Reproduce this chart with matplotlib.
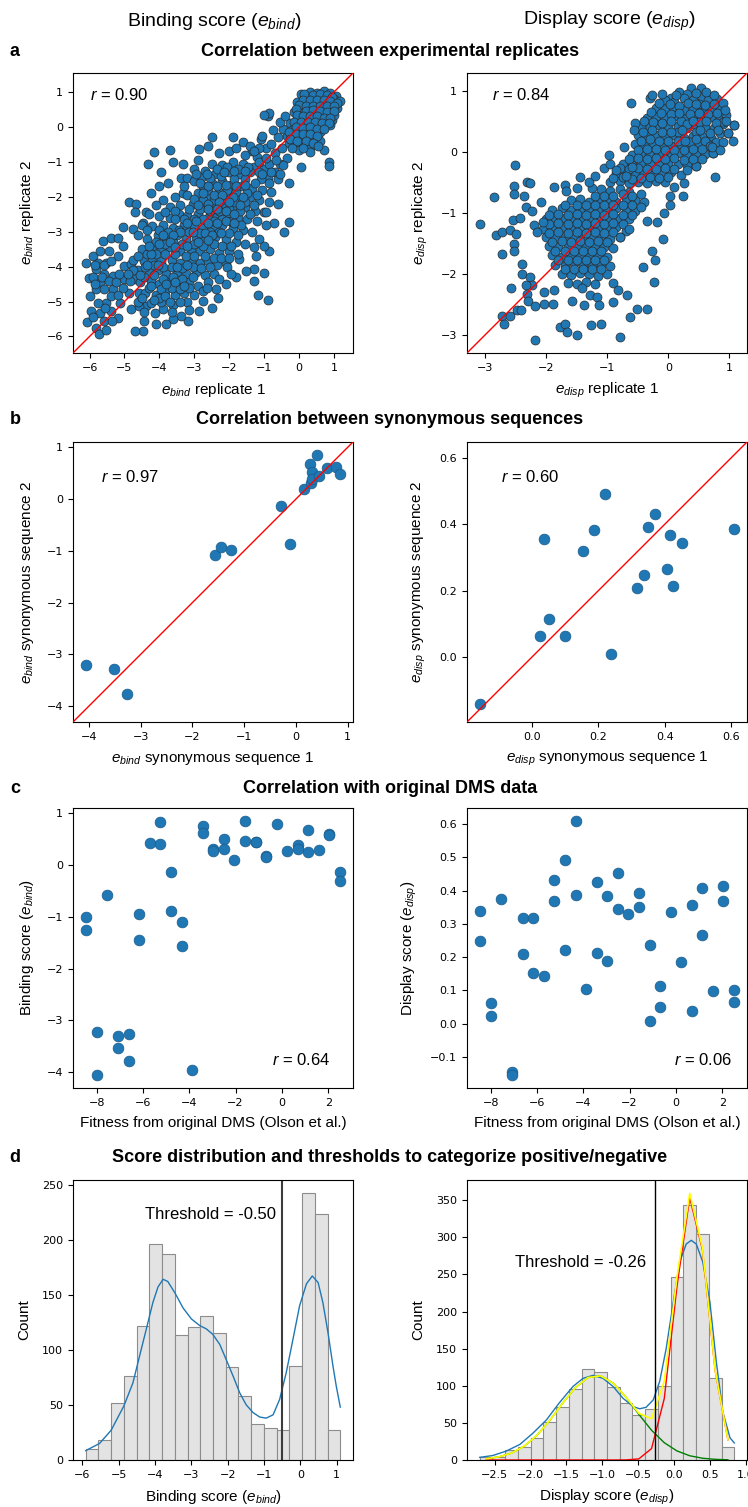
import numpy as np
import matplotlib.pyplot as plt
from matplotlib.ticker import MultipleLocator

plt.rcParams['mathtext.fontset'] = 'custom'
plt.rcParams['mathtext.rm'] = 'Liberation Sans'
plt.rcParams['mathtext.it'] = 'Liberation Sans:italic'

# ---- replicate scores, (replicate 1, replicate 2) ----
bind_replicates = [
    (0.05, 0.95), (0.3, 1.0), (0.5, 0.98), (0.7, 1.02), (0.9, 0.97), (1.05, 0.9), (0.2, 0.85), (0.4, 0.82),
    (0.6, 0.86), (0.8, 0.84), (1.0, 0.8), (1.18, 0.75), (-0.05, 0.7), (0.15, 0.68), (0.35, 0.7), (0.55, 0.66),
    (0.75, 0.7), (0.95, 0.65), (0.1, 0.55), (0.3, 0.52), (0.5, 0.55), (0.7, 0.5), (0.9, 0.48), (1.08, 0.55),
    (-0.15, 0.42), (0.05, 0.4), (0.25, 0.38), (0.45, 0.4), (0.65, 0.35), (0.85, 0.32), (-0.05, 0.25), (0.15, 0.22),
    (0.35, 0.25), (0.55, 0.2), (0.75, 0.18), (0.95, 0.2), (-0.25, 0.1), (-0.05, 0.08), (0.15, 0.05), (0.35, 0.07),
    (0.55, 0.0), (0.75, 0.02), (-0.2, -0.1), (0.0, -0.08), (0.2, -0.12), (0.4, -0.1), (0.6, -0.15),
    (-0.35, -0.25), (-0.15, -0.28), (0.05, -0.3), (0.25, -0.3), (0.45, -0.35), (-0.3, -0.45), (-0.1, -0.5),
    (0.15, -0.48), (0.35, -0.55), (0.6, -0.4), (0.7, -0.65), (0.3, -0.72), (0.0, -0.65), (-0.45, -0.05),
    (-0.55, 0.15), (-0.4, 0.3), (-0.6, -0.3), (-0.75, -0.1), (-0.9, 0.3), (-0.85, 0.4), (-1.0, 0.35),
    (-0.95, -0.6), (-0.8, -0.5), (-1.1, -0.35), (-1.15, -0.6), (-1.35, -0.7), (-0.7, -0.75), (0.85, -1.0),
    (0.85, -1.12), (0.05, -1.15), (-0.35, -0.88), (-0.55, -1.05), (-0.5, -0.6), (0.9, 0.05), (1.0, 0.35),
    (0.15, 0.95), (0.4, 0.92), (0.6, 0.93), (0.8, 0.92), (0.95, 0.85), (0.1, 0.78), (0.3, 0.76), (0.5, 0.76),
    (0.7, 0.77), (0.9, 0.75), (1.1, 0.68), (0.0, 0.62), (0.2, 0.6), (0.4, 0.61), (0.6, 0.6), (0.8, 0.6),
    (1.0, 0.6), (-0.1, 0.52), (0.2, 0.47), (0.4, 0.48), (0.6, 0.45), (0.8, 0.42), (1.0, 0.45), (-0.05, 0.33),
    (0.1, 0.3), (0.3, 0.3), (0.5, 0.3), (0.7, 0.27), (0.9, 0.26), (-0.15, 0.15), (0.05, 0.15), (0.25, 0.15),
    (0.45, 0.13), (0.65, 0.1), (0.85, 0.1), (-0.1, 0.0), (0.1, -0.02), (0.3, 0.0), (0.5, -0.05), (0.7, -0.05),
    (-0.3, -0.15), (-0.1, -0.2), (0.1, -0.2), (0.3, -0.2), (0.5, -0.25), (-0.25, -0.35), (-0.05, -0.4),
    (0.2, -0.4), (0.4, -0.45), (0.55, -0.55), (-0.2, -0.6), (0.1, -0.6),
    (-1.05, -0.25), (-1.62, -0.44), (-1.9, -0.3), (-2.48, -0.3), (-2.86, -0.62), (-3.71, -0.65), (-4.16, -0.73),
    (-4.33, -1.07), (-3.62, -1.0), (-3.33, -1.07), (-3.95, -1.3), (-4.0, -1.7), (-3.76, -1.6), (-3.38, -1.45),
    (-4.24, -1.88), (-3.33, -1.88), (-4.88, -2.16), (-4.67, -2.2), (-4.71, -2.45), (-4.38, -2.45), (-5.05, -2.88),
    (-4.76, -2.93), (-4.47, -2.74), (-0.29, -2.71), (-0.43, -3.02), (-0.71, -2.74), (-0.86, -2.16), (-1.0, -2.45),
    (-1.14, -3.2), (-0.86, -3.55), (-1.0, -3.4), (-1.24, -3.69), (-1.29, -4.08), (-1.0, -4.17), (-1.19, -4.82),
    (-0.88, -4.96), (-1.29, -4.41), (-1.52, -4.12), (-1.71, -3.79), (-2.1, -3.89), (-2.1, -4.5), (-2.38, -4.65),
    (-2.33, -4.89), (-2.76, -4.98), (-2.48, -5.18), (-2.86, -5.27), (-3.19, -5.56), (-3.38, -5.42), (-3.62, -5.51),
    (-3.81, -5.63), (-4.1, -5.65), (-4.48, -5.85), (-4.71, -5.85), (-4.43, -5.56), (-4.38, -5.13), (-3.9, -5.22),
    (-4.14, -5.32), (-6.11, -3.91), (-6.02, -4.32), (-5.9, -3.7), (-5.71, -3.55), (-5.62, -3.26), (-5.38, -3.17),
    (-5.19, -3.19), (-5.05, -3.41), (-5.81, -4.08), (-5.52, -3.89), (-5.33, -4.27), (-5.71, -4.46), (-6.0, -4.84),
    (-5.81, -4.65), (-5.52, -5.03), (-5.95, -5.27), (-5.71, -5.32), (-6.08, -5.6), (-5.81, -5.75), (-5.73, -5.92),
    (-5.52, -5.82), (-5.38, -5.27), (-5.19, -5.46), (-5.14, -5.03), (-5.33, -4.65), (-5.0, -4.36), (-5.0, -3.98),
    (-4.81, -3.93), (-5.19, -3.7), (-4.86, -4.75), (-4.81, -5.22), (-4.57, -5.13), (-4.71, -4.36), (-4.57, -4.75),
    (-5.6, -4.2), (-5.9, -4.3), (-5.45, -3.55), (-5.75, -3.9),
    (-2.6, -0.55), (-2.3, -0.75), (-2.0, -0.7), (-1.8, -0.6), (-1.4, -0.55), (-1.2, -0.85), (-2.9, -0.95),
    (-2.5, -1.05), (-2.2, -1.1), (-1.9, -1.0), (-1.6, -1.05), (-1.3, -1.15), (-1.0, -1.2), (-0.7, -1.3),
    (-0.45, -1.1), (-0.3, -1.6), (-0.6, -1.5), (-0.9, -1.45), (-1.1, -1.5), (-1.4, -1.3), (-1.7, -1.35),
    (-2.0, -1.3), (-2.4, -1.35), (-2.7, -1.25), (-3.0, -1.2), (-3.2, -1.45), (-3.3, -1.7), (-3.0, -1.55),
    (-2.75, -1.7), (-2.5, -1.6), (-2.2, -1.55), (-1.95, -1.65), (-1.65, -1.7), (-1.35, -1.75), (-1.05, -1.8),
    (-0.8, -1.85), (-3.55, -2.0), (-3.2, -1.95), (-2.9, -1.9), (-2.6, -2.0), (-2.3, -1.85), (-2.0, -1.95),
    (-1.7, -2.05), (-1.4, -2.0), (-1.15, -2.1), (-3.9, -2.1), (-4.1, -2.25), (-3.7, -2.3), (-3.4, -2.25),
    (-3.05, -2.2), (-2.75, -2.3), (-2.45, -2.25), (-2.15, -2.2), (-1.85, -2.35), (-1.55, -2.3), (-1.25, -2.4),
    (-0.95, -2.45), (-0.6, -2.2), (-4.3, -2.5), (-4.0, -2.55), (-3.7, -2.6), (-3.45, -2.5), (-3.2, -2.55),
    (-2.9, -2.5), (-2.6, -2.6), (-2.35, -2.55), (-2.05, -2.5), (-1.75, -2.6), (-1.5, -2.65), (-1.2, -2.7),
    (-0.95, -2.8), (-4.5, -2.8), (-4.2, -2.85), (-3.9, -2.8), (-3.6, -2.9), (-3.3, -2.8), (-3.0, -2.85),
    (-2.75, -2.9), (-2.45, -2.85), (-2.2, -2.8), (-1.9, -2.9), (-1.6, -2.95), (-1.35, -3.0), (-4.6, -3.1),
    (-4.35, -3.2), (-4.05, -3.1), (-3.8, -3.2), (-3.5, -3.1), (-3.25, -3.2), (-2.95, -3.15), (-2.7, -3.25),
    (-2.4, -3.15), (-2.1, -3.2), (-1.8, -3.3), (-1.55, -3.35), (-1.3, -3.45), (-4.5, -3.5), (-4.2, -3.45),
    (-3.95, -3.5), (-3.7, -3.45), (-3.4, -3.55), (-3.1, -3.5), (-2.85, -3.55), (-2.55, -3.5), (-2.3, -3.6),
    (-2.0, -3.55), (-1.75, -3.65), (-4.75, -3.8), (-4.45, -3.85), (-4.2, -3.8), (-3.95, -3.85), (-3.65, -3.8),
    (-3.4, -3.9), (-3.1, -3.85), (-2.85, -3.9), (-2.6, -3.85), (-2.35, -3.95), (-2.05, -4.0), (-4.6, -4.1),
    (-4.3, -4.15), (-4.05, -4.1), (-3.8, -4.2), (-3.5, -4.15), (-3.25, -4.2), (-2.95, -4.15), (-2.7, -4.25),
    (-2.45, -4.2), (-1.8, -4.3), (-4.85, -4.4), (-4.55, -4.45), (-4.25, -4.4), (-4.0, -4.5), (-3.7, -4.45),
    (-3.45, -4.5), (-3.15, -4.45), (-2.9, -4.55), (-2.6, -4.45), (-4.4, -4.75), (-4.1, -4.8), (-3.85, -4.7),
    (-3.55, -4.8), (-3.3, -4.75), (-3.0, -4.8), (-2.75, -4.7), (-4.6, -5.0), (-4.25, -5.05), (-3.95, -5.0),
    (-3.6, -5.1), (-3.2, -5.0),
    (-4.35, -3.65), (-4.1, -3.65), (-3.85, -3.65), (-3.55, -3.65), (-3.25, -3.7), (-3.0, -3.7), (-2.7, -3.7),
    (-2.45, -3.75), (-4.4, -4.0), (-4.15, -3.95), (-3.9, -4.0), (-3.65, -4.0), (-3.35, -4.05), (-3.05, -4.0),
    (-2.8, -4.05), (-4.45, -4.3), (-4.15, -4.25), (-3.9, -4.35), (-3.6, -4.3), (-3.35, -4.35), (-3.05, -4.3),
    (-4.3, -4.6), (-3.95, -4.65), (-3.65, -4.6), (-3.4, -4.65), (-3.15, -4.62), (-4.1, -3.3), (-3.85, -3.35),
    (-3.6, -3.3), (-3.35, -3.35), (-3.0, -3.35), (-2.75, -3.4), (-2.45, -3.35), (-2.2, -3.4), (-1.95, -3.4),
    (-4.35, -2.95), (-3.75, -3.0), (-3.45, -2.95), (-3.15, -3.0), (-2.85, -3.05), (-2.55, -3.0), (-2.3, -3.0),
    (-2.0, -3.05), (-1.75, -3.1), (-3.85, -2.45), (-3.55, -2.4), (-3.3, -2.65), (-3.0, -2.65), (-2.75, -2.65),
    (-2.45, -2.7), (-2.2, -2.65), (-1.95, -2.7), (-1.65, -2.8), (-2.85, -2.35), (-2.55, -2.4), (-2.3, -2.4),
    (-2.0, -2.35), (-1.7, -2.4), (-1.4, -2.5), (-2.75, -2.1), (-2.45, -2.1), (-2.15, -2.05), (-1.85, -2.15),
    (-1.55, -2.15), (-1.3, -2.25), (-2.6, -1.8), (-2.35, -1.7), (-2.05, -1.8), (-1.8, -1.85), (-1.5, -1.9),
    (-1.2, -1.95), (-2.8, -1.45), (-2.55, -1.45), (-2.25, -1.4), (-1.85, -1.5), (-1.55, -1.5), (-1.25, -1.6),
    (-2.35, -1.2), (-2.05, -1.15), (-1.75, -1.2), (-1.45, -1.15), (-1.15, -1.3), (-0.85, -1.6), (-4.0, -2.95),
    (-4.25, -3.65), (-4.6, -3.7), (-4.75, -4.1), (-4.0, -4.9),
    (-2.95, -1.35), (-2.65, -1.35), (-2.15, -1.3), (-1.85, -1.25), (-1.55, -1.25), (-2.85, -1.6), (-2.6, -1.7),
    (-2.1, -1.65), (-1.8, -1.7), (-1.55, -1.65), (-2.75, -1.9), (-2.45, -1.95), (-2.2, -1.95), (-1.9, -2.0),
    (-1.6, -2.0), (-3.0, -2.05), (-2.6, -2.2), (-2.3, -2.15), (-2.0, -2.15), (-1.7, -2.25), (-3.15, -2.35),
    (-2.9, -2.25), (-2.6, -2.35), (-2.35, -2.35), (-2.1, -2.4), (-1.85, -2.5), (-3.55, -2.65), (-3.2, -2.75),
    (-2.95, -2.7), (-2.6, -2.75), (-2.35, -2.75), (-2.1, -2.7), (-1.85, -2.75), (-3.4, -3.0), (-3.05, -3.0),
    (-2.7, -3.05), (-2.5, -3.1), (-2.25, -3.05), (-3.6, -3.1), (-3.9, -3.1), (-3.7, -3.3), (-3.2, -3.4),
    (-2.9, -3.3), (-2.6, -3.25), (-4.3, -3.4), (-4.0, -3.35), (-3.55, -3.45), (-4.35, -3.95), (-4.05, -3.95),
    (-3.5, -4.0), (-3.2, -3.95), (-4.55, -4.25), (-4.25, -4.55), (-3.8, -4.5), (-3.55, -4.45), (-3.3, -4.55),
    (-4.5, -4.9), (-4.15, -4.95), (-3.85, -4.85), (-3.7, -5.0), (-3.4, -5.0), (-4.45, -5.3), (-3.65, -5.3),
    (-3.15, -5.25), (-2.65, -4.6), (-2.3, -4.35), (-2.55, -4.0), (-2.25, -3.75), (-2.0, -3.75), (-1.95, -4.2),
    (-5.85, -3.95), (-5.6, -3.95), (-5.4, -3.85), (-5.65, -4.3), (-5.45, -4.4), (-5.25, -4.45), (-5.85, -4.5),
    (-5.6, -4.65), (-5.4, -4.85), (-5.2, -4.8), (-5.75, -5.05), (-5.55, -5.2), (-5.9, -5.45), (-5.6, -5.55),
    (-5.35, -5.55), (-5.05, -4.6), (-5.15, -4.2), (-4.9, -4.2), (-1.15, -1.0), (-0.85, -1.05), (-0.95, -0.9),
    (-0.65, -0.95), (-1.55, -0.8), (-1.3, -0.7), (-0.55, -1.35), (-0.8, -1.3), (-1.05, -1.35),
]

disp_replicates = [
    (0.18, 0.98), (0.37, 1.05), (0.53, 1.05), (0.3, 0.95), (0.05, 0.88),
    (-0.3, 0.88), (-0.27, 0.92), (-0.05, 0.85), (0.1, 0.82), (0.25, 0.88), (0.4, 0.85), (0.55, 0.9), (0.7, 0.83),
    (0.8, 0.86), (-0.2, 0.72), (-0.05, 0.7), (0.1, 0.72), (0.25, 0.68), (0.4, 0.72), (0.55, 0.7), (0.7, 0.68),
    (0.85, 0.7), (-0.35, 0.55), (-0.2, 0.57), (-0.05, 0.55), (0.1, 0.58), (0.25, 0.54), (0.4, 0.57), (0.55, 0.55),
    (0.7, 0.56), (0.85, 0.53), (0.95, 0.6), (-0.45, 0.42), (-0.3, 0.4), (-0.15, 0.43), (0.0, 0.4), (0.15, 0.42),
    (0.3, 0.38), (0.45, 0.42), (0.6, 0.4), (0.75, 0.38), (0.9, 0.45), (1.08, 0.43), (-0.5, 0.27), (-0.35, 0.25),
    (-0.2, 0.28), (-0.05, 0.25), (0.1, 0.27), (0.25, 0.23), (0.4, 0.26), (0.55, 0.25), (0.7, 0.22), (0.85, 0.3),
    (0.98, 0.3), (-0.55, 0.12), (-0.4, 0.1), (-0.25, 0.12), (-0.1, 0.08), (0.05, 0.1), (0.2, 0.12), (0.35, 0.08),
    (0.5, 0.1), (0.65, 0.12), (0.78, 0.15), (1.06, 0.17), (-0.6, -0.05), (-0.45, -0.03), (-0.3, -0.05),
    (-0.15, -0.02), (0.0, -0.06), (0.15, -0.03), (0.3, -0.05), (0.45, -0.02), (0.6, -0.04), (0.73, -0.02),
    (-0.75, -0.2), (-0.6, -0.22), (-0.45, -0.18), (-0.3, -0.2), (-0.15, -0.22), (0.0, -0.18), (0.15, -0.2),
    (0.3, -0.22), (0.45, -0.24), (-0.85, -0.35), (-0.7, -0.33), (-0.55, -0.37), (-0.4, -0.35), (-0.25, -0.33),
    (-0.1, -0.36), (0.05, -0.34), (0.2, -0.38), (0.76, -0.41), (-0.95, -0.5), (-0.8, -0.48), (-0.65, -0.52),
    (-0.5, -0.5), (-0.35, -0.52), (-0.2, -0.48), (-0.05, -0.5), (0.26, -0.52), (0.1, -0.58), (0.05, 0.62),
    (0.2, 0.5), (0.35, 0.62), (0.5, 0.48), (0.65, 0.62), (0.15, 0.32), (0.3, 0.45), (0.45, 0.32), (0.6, 0.18),
    (0.0, 0.18), (-0.1, 0.32), (0.35, 0.15), (0.5, 0.78), (0.18, 0.75), (0.65, 0.85), (-0.61, 0.79),
    (-0.54, 0.47), (-0.56, 0.36), (-0.73, 0.08), (0.98, 0.3), (0.9, 0.48), (0.73, -0.02), (0.68, 0.09),
    (0.45, -0.24), (0.24, -0.73), (0.03, -0.73), (0.03, -0.87), (1.08, 0.43),
    (-0.1, 0.95), (0.12, 0.92), (0.45, 0.96), (0.62, 0.97), (0.75, 0.93), (-0.15, 0.8), (0.02, 0.78),
    (0.32, 0.8), (0.45, 0.78), (0.6, 0.76), (0.75, 0.78), (0.9, 0.8), (-0.28, 0.65), (-0.12, 0.63),
    (0.18, 0.64), (0.5, 0.63), (0.8, 0.64), (0.92, 0.68), (-0.4, 0.5), (-0.25, 0.48), (-0.1, 0.47), (0.05, 0.5),
    (0.4, 0.5), (0.62, 0.5), (0.78, 0.47), (0.95, 0.5), (-0.42, 0.33), (-0.27, 0.35), (0.05, 0.33), (0.22, 0.36),
    (0.52, 0.36), (0.68, 0.3), (0.82, 0.35), (-0.45, 0.18), (-0.3, 0.2), (-0.15, 0.18), (0.15, 0.18),
    (0.28, 0.18), (0.45, 0.2), (0.72, 0.08), (0.9, 0.15), (-0.5, 0.03), (-0.35, 0.05), (-0.2, 0.04),
    (-0.05, 0.02), (0.1, 0.03), (0.25, 0.02), (0.4, 0.04), (0.55, 0.05), (0.85, 0.02), (-0.65, -0.12),
    (-0.5, -0.1), (-0.35, -0.12), (-0.2, -0.11), (-0.05, -0.12), (0.1, -0.1), (0.25, -0.13), (0.4, -0.12),
    (0.55, -0.12), (-0.8, -0.27), (-0.65, -0.28), (-0.5, -0.27), (-0.35, -0.28), (-0.2, -0.28), (-0.05, -0.27),
    (0.1, -0.28), (0.3, -0.3), (-0.9, -0.43), (-0.75, -0.42), (-0.6, -0.44), (-0.45, -0.43), (-0.3, -0.42),
    (-0.15, -0.43), (0.0, -0.42),
    (-1.1, -0.62), (-0.95, -0.65), (-0.8, -0.62), (-0.65, -0.66), (-1.25, -0.6), (-1.6, -0.8), (-1.45, -0.78),
    (-1.3, -0.82), (-1.15, -0.78), (-1.0, -0.8), (-0.85, -0.82), (-0.7, -0.78), (-0.55, -0.8), (-0.4, -0.82),
    (-1.9, -0.95), (-1.75, -0.92), (-1.6, -0.95), (-1.45, -0.97), (-1.3, -0.93), (-1.15, -0.95), (-1.0, -0.97),
    (-0.85, -0.93), (-0.7, -0.95), (-0.55, -0.98), (-2.0, -1.1), (-1.85, -1.12), (-1.7, -1.08), (-1.55, -1.1),
    (-1.4, -1.12), (-1.25, -1.08), (-1.1, -1.1), (-0.95, -1.12), (-0.8, -1.08), (-0.65, -1.1), (-2.05, -1.27),
    (-1.9, -1.25), (-1.75, -1.23), (-1.6, -1.27), (-1.45, -1.25), (-1.3, -1.23), (-1.15, -1.27), (-1.0, -1.25),
    (-0.85, -1.23), (-0.7, -1.3), (-2.0, -1.4), (-1.85, -1.42), (-1.7, -1.38), (-1.55, -1.4), (-1.4, -1.42),
    (-1.25, -1.38), (-1.1, -1.4), (-0.95, -1.43), (-0.8, -1.4), (-1.95, -1.55), (-1.8, -1.57), (-1.65, -1.53),
    (-1.5, -1.55), (-1.35, -1.57), (-1.2, -1.53), (-1.05, -1.56), (-0.9, -1.58), (-1.9, -1.7), (-1.75, -1.72),
    (-1.6, -1.68), (-1.45, -1.7), (-1.3, -1.72), (-1.15, -1.68), (-1.0, -1.72), (-1.85, -1.85), (-1.7, -1.87),
    (-1.55, -1.83), (-1.4, -1.85), (-1.25, -1.88), (-1.1, -1.84), (-0.95, -1.87), (-1.75, -2.0), (-1.6, -2.02),
    (-1.45, -1.98), (-1.3, -2.0), (-1.15, -2.03), (-1.0, -2.0), (-1.65, -2.15), (-1.5, -2.17), (-1.35, -2.13),
    (-1.2, -2.16), (-0.9, -2.15), (-1.44, -0.42), (-1.3, -0.5), (-1.5, -0.6), (-1.7, -0.55), (-1.68, -0.65),
    (-1.88, -0.58), (-1.2, -0.4), (-1.06, -0.26), (-0.95, -0.21), (-0.98, -0.05), (-0.85, -0.3), (-0.7, -0.4),
    (-0.6, -0.25),
    (-1.2, -0.72), (-1.05, -0.72), (-0.9, -0.72), (-0.75, -0.7), (-0.6, -0.72), (-0.45, -0.7), (-1.7, -0.88),
    (-1.5, -0.87), (-1.35, -0.88), (-1.2, -0.87), (-1.05, -0.88), (-0.9, -0.87), (-0.75, -0.88), (-0.6, -0.88),
    (-0.45, -0.9), (-1.95, -1.03), (-1.8, -1.02), (-1.65, -1.03), (-1.5, -1.02), (-1.35, -1.03), (-1.2, -1.02),
    (-1.05, -1.03), (-0.9, -1.02), (-0.75, -1.03), (-0.6, -1.03), (-1.95, -1.18), (-1.8, -1.17), (-1.65, -1.18),
    (-1.5, -1.17), (-1.35, -1.18), (-1.2, -1.17), (-1.05, -1.18), (-0.9, -1.17), (-0.75, -1.18), (-1.95, -1.33),
    (-1.8, -1.32), (-1.65, -1.33), (-1.5, -1.32), (-1.35, -1.33), (-1.2, -1.32), (-1.05, -1.33), (-0.9, -1.32),
    (-1.9, -1.48), (-1.75, -1.47), (-1.6, -1.48), (-1.45, -1.47), (-1.3, -1.48), (-1.15, -1.47), (-1.0, -1.48),
    (-1.85, -1.63), (-1.7, -1.62), (-1.55, -1.63), (-1.4, -1.62), (-1.25, -1.63), (-1.1, -1.62), (-1.8, -1.78),
    (-1.65, -1.77), (-1.5, -1.78), (-1.35, -1.77), (-1.2, -1.78), (-1.05, -1.78), (-1.7, -1.93), (-1.55, -1.92),
    (-1.4, -1.93), (-1.25, -1.92), (-1.1, -1.93),
    (-3.09, -1.18), (-2.85, -0.75), (-2.82, -1.36), (-2.72, -1.32), (-2.59, -1.28), (-2.51, -0.22), (-2.53, -0.57),
    (-2.53, -0.7), (-2.55, -1.12), (-2.5, -1.35), (-2.53, -1.51), (-2.53, -1.62), (-2.72, -1.68), (-2.36, -0.73),
    (-2.31, -0.5), (-2.26, -0.52), (-2.34, -0.91), (-2.43, -1.08), (-2.23, -0.97), (-2.2, -1.2), (-2.15, -1.32),
    (-2.08, -0.83), (-2.05, -1.16), (-2.39, -1.84), (-2.39, -2.01), (-2.27, -2.05), (-2.23, -2.19), (-2.34, -2.19),
    (-2.57, -2.24), (-2.31, -2.33), (-2.3, -2.45), (-2.18, -2.53), (-2.48, -2.6), (-2.42, -2.6), (-2.73, -2.69),
    (-2.59, -2.69), (-2.69, -2.82), (-2.19, -3.09), (-2.04, -2.3), (-2.04, -2.5), (-1.89, -2.5), (-1.88, -2.27),
    (-1.77, -2.87), (-1.7, -2.83), (-1.66, -2.95), (-1.49, -3.0), (-1.58, -2.45), (-1.41, -2.24), (-1.38, -2.52),
    (-1.28, -2.35), (-1.17, -2.38), (-1.14, -2.52), (-1.11, -2.82), (-1.27, -2.84), (-0.9, -2.46), (-0.83, -2.27),
    (-0.68, -2.35), (-0.63, -2.71), (-0.79, -3.04), (-0.52, -2.57), (-0.35, -2.57), (-0.41, -1.89), (-0.23, -2.13),
    (-0.27, -1.63), (-0.22, -1.77), (-0.09, -1.43), (-0.07, -1.0), (-0.35, -1.13), (-0.19, -1.16), (-0.65, -1.27),
    (-0.79, -1.4),
]

# ---- synonymous sequence pairs ----
bind_syn1 = [-4.06, -3.52, -3.27, -1.56, -1.45, -1.26, -0.29, -0.12, 0.16, 0.27, 0.41, 0.32, 0.30, 0.32, 0.45, 0.61, 0.77, 0.85]
bind_syn2 = [-3.21, -3.29, -3.77, -1.08, -0.93, -0.99, -0.13, -0.87, 0.19, 0.68, 0.86, 0.52, 0.31, 0.40, 0.45, 0.61, 0.63, 0.49]
disp_syn1 = [-0.158, 0.024, 0.051, 0.037, 0.100, 0.154, 0.188, 0.220, 0.237, 0.318, 0.338, 0.351, 0.370, 0.408, 0.416, 0.425, 0.453, 0.610]
disp_syn2 = [-0.143, 0.064, 0.114, 0.356, 0.064, 0.320, 0.383, 0.492, 0.009, 0.207, 0.248, 0.392, 0.430, 0.266, 0.369, 0.214, 0.344, 0.386]

# ---- original DMS fitness vs. scores ----
dms_fitness = [-8.47, -8.47, -7.99, -7.99, -7.53, -7.09, -7.09, -6.62, -6.62, -6.15, -6.15, -5.70, -5.25, -5.25,
               -4.79, -4.79, -4.33, -4.33, -3.87, -3.42, -3.42, -2.96, -2.96, -2.51, -2.51, -2.05, -1.59, -1.59,
               -1.13, -1.13, -0.67, -0.67, -0.23, 0.23, 0.69, 0.69, 1.14, 1.14, 1.60, 2.05, 2.05, 2.52, 2.52]
dms_bind = [-1.00, -1.26, -3.23, -4.06, -0.57, -3.30, -3.53, -3.26, -3.78, -0.94, -1.45, 0.42, 0.84, 0.41,
            -0.14, -0.89, -1.09, -1.56, -3.95, 0.75, 0.63, 0.32, 0.28, 0.51, 0.32, 0.11, 0.86, 0.47,
            0.45, 0.44, 0.17, 0.15, 0.79, 0.28, 0.39, 0.32, 0.68, 0.26, 0.30, 0.61, 0.59, -0.14, -0.30]
dms_disp = [0.338, 0.250, 0.063, 0.024, 0.374, -0.144, -0.155, 0.319, 0.208, 0.319, 0.153, 0.144, 0.431, 0.370,
            0.492, 0.221, 0.610, 0.387, 0.104, 0.425, 0.213, 0.384, 0.188, 0.453, 0.345, 0.331, 0.393, 0.351,
            0.238, 0.009, 0.113, 0.051, 0.335, 0.185, 0.356, 0.038, 0.409, 0.266, 0.099, 0.415, 0.370, 0.100, 0.064]

# ---- score histograms (20 bins each) ----
bind_range = (-5.91, 1.10)
bind_counts = [10, 18, 52, 76, 122, 196, 187, 113, 121, 131, 115, 84, 58, 33, 29, 27, 85, 242, 223, 27]
bind_kde_x = [-5.91, -5.53, -5.21, -4.86, -4.61, -4.43, -4.24, -4.06, -3.92, -3.78, -3.65, -3.46, -3.23, -3.0,
              -2.77, -2.59, -2.41, -2.22, -2.04, -1.85, -1.67, -1.49, -1.30, -1.12, -0.94, -0.75, -0.57, -0.39,
              -0.20, -0.02, 0.17, 0.33, 0.49, 0.62, 0.76, 0.90, 0.99, 1.10]
bind_kde_y = [8.5, 15, 27, 49, 70, 94, 119, 143, 157, 164, 162, 152, 138, 128, 122, 119, 114, 105, 91, 76, 61,
              50, 43, 39, 38, 41, 55, 79, 110, 140, 160, 167, 161, 143, 116, 85, 67, 48]
bind_threshold = -0.50

disp_range = (-2.71, 0.84)
disp_counts = [4, 4, 13, 17, 29, 51, 71, 96, 122, 118, 99, 77, 60, 69, 100, 246, 344, 305, 111, 18]
disp_kde_x = [-2.71, -2.53, -2.34, -2.15, -1.97, -1.78, -1.60, -1.41, -1.27, -1.13, -0.99, -0.85, -0.71, -0.57,
              -0.48, -0.39, -0.29, -0.20, -0.11, -0.01, 0.08, 0.17, 0.24, 0.31, 0.40, 0.50, 0.59, 0.68, 0.78, 0.84]
disp_kde_y = [3.6, 6, 12, 21, 36, 54, 77, 99, 110, 114, 110, 99, 83, 72, 69, 71, 81, 106, 150, 213, 267, 291,
              296, 291, 267, 213, 132, 65, 30, 23]
# two-component Gaussian fit, evaluated at the bin centres
fit_low = [1.7, 4.2, 9.3, 18.6, 33.3, 53.2, 76.2, 97.2, 111.1, 113.4, 103.4, 84.4, 61.5, 40.1, 23.3, 12.2, 5.7,
           2.4, 0.9, 0.3]
fit_high = [0, 0, 0, 0, 0, 0, 0, 0, 0, 0, 0, 0.1, 1.5, 15.4, 82.8, 234.3, 353.6, 283.1, 120.0, 27.2]
disp_threshold = -0.26

W, H = 748, 1507
fig = plt.figure(figsize=(W / 100, H / 100), dpi=100)

SANS = 'Liberation Sans'
BLUE = '#1f77b4'


def add_panel(left, top, w=280, h=280):
    ax = fig.add_axes([left / W, 1 - (top + h) / H, w / W, h / H])
    ax.tick_params(labelsize=8)
    return ax


def label(ax, xlabel, ylabel):
    ax.set_xlabel(xlabel, fontsize=11, family=SANS, labelpad=6)
    ax.set_ylabel(ylabel, fontsize=11, family=SANS, labelpad=8)


def identity_scatter(ax, x, y, size, edge, r_text, r_pos):
    x = np.asarray(x)
    y = np.asarray(y)
    ax.scatter(x, y, s=size, c=BLUE, edgecolors=edge, linewidths=0.5, zorder=2)
    lo = min(x.min(), y.min())
    hi = max(x.max(), y.max())
    pad = 0.05 * (hi - lo)
    lims = (lo - pad, hi + pad)
    ax.plot(lims, lims, color='red', lw=1, zorder=3)
    ax.set_xlim(lims)
    ax.set_ylim(lims)
    ax.text(*r_pos, r_text, transform=ax.transAxes, fontsize=12, family=SANS, va='center')


def score_hist(ax, rng, counts):
    counts = np.asarray(counts)
    edges = np.linspace(rng[0], rng[1], len(counts) + 1)
    centers = (edges[:-1] + edges[1:]) / 2
    ax.bar(centers, counts, width=edges[1] - edges[0], color='#e3e3e3', edgecolor='#8c8c8c', linewidth=0.8)
    return centers


# column headers and section titles
fig.text(214 / W, 1 - 21 / H, 'Binding score ($e_{bind}$)', ha='center', va='center', fontsize=14, family=SANS)
fig.text(609 / W, 1 - 21 / H, 'Display score ($e_{disp}$)', ha='center', va='center', fontsize=14, family=SANS)
sections = [('a', 'Correlation between experimental replicates', 51),
            ('b', 'Correlation between synonymous sequences', 419),
            ('c', 'Correlation with original DMS data', 788),
            ('d', 'Score distribution and thresholds to categorize positive/negative', 1158)]
for letter, title, yc in sections:
    fig.text(15 / W, 1 - yc / H, letter, ha='center', va='center', fontsize=13, fontweight='bold', family=SANS)
    fig.text(390 / W, 1 - yc / H, title, ha='center', va='center', fontsize=13, fontweight='bold', family=SANS)

# a: replicates
bx, by = np.array(bind_replicates).T
ax = add_panel(73, 73)
identity_scatter(ax, bx, by, 42, '#2a2a2a', '$r$ = 0.90', (0.06, 0.92))
ax.xaxis.set_major_locator(MultipleLocator(1))
ax.yaxis.set_major_locator(MultipleLocator(1))
label(ax, '$e_{bind}$ replicate 1', '$e_{bind}$ replicate 2')

dx, dy = np.array(disp_replicates).T
ax = add_panel(467, 73)
identity_scatter(ax, dx, dy, 42, '#2a2a2a', '$r$ = 0.84', (0.09, 0.92))
ax.xaxis.set_major_locator(MultipleLocator(1))
ax.yaxis.set_major_locator(MultipleLocator(1))
label(ax, '$e_{disp}$ replicate 1', '$e_{disp}$ replicate 2')

# b: synonymous sequences
ax = add_panel(73, 442)
identity_scatter(ax, bind_syn1, bind_syn2, 60, '#1a5a8a', '$r$ = 0.97', (0.1, 0.875))
ax.xaxis.set_major_locator(MultipleLocator(1))
ax.yaxis.set_major_locator(MultipleLocator(1))
label(ax, '$e_{bind}$ synonymous sequence 1', '$e_{bind}$ synonymous sequence 2')

ax = add_panel(467, 442)
identity_scatter(ax, disp_syn1, disp_syn2, 60, '#1a5a8a', '$r$ = 0.60', (0.12, 0.875))
ax.xaxis.set_major_locator(MultipleLocator(0.2))
ax.yaxis.set_major_locator(MultipleLocator(0.2))
label(ax, '$e_{disp}$ synonymous sequence 1', '$e_{disp}$ synonymous sequence 2')

# c: comparison with original DMS fitness
ax = add_panel(73, 808)
ax.scatter(dms_fitness, dms_bind, s=60, c=BLUE, edgecolors='#1a5a8a', linewidths=0.5)
ax.text(0.71, 0.1, '$r$ = 0.64', transform=ax.transAxes, fontsize=12, family=SANS, va='center')
label(ax, 'Fitness from original DMS (Olson et al.)', 'Binding score ($e_{bind}$)')

ax = add_panel(467, 808)
ax.scatter(dms_fitness, dms_disp, s=60, c=BLUE, edgecolors='#1a5a8a', linewidths=0.5)
ax.text(0.74, 0.1, '$r$ = 0.06', transform=ax.transAxes, fontsize=12, family=SANS, va='center')
label(ax, 'Fitness from original DMS (Olson et al.)', 'Display score ($e_{disp}$)')

# d: score distributions with thresholds
ax = add_panel(73, 1180)
score_hist(ax, bind_range, bind_counts)
ax.plot(bind_kde_x, bind_kde_y, color=BLUE, lw=1)
ax.axvline(bind_threshold, color='#3c3c3c', lw=1.5)
ax.text(-0.68, 223, 'Threshold = -0.50', ha='right', va='center', fontsize=12, family=SANS)
label(ax, 'Binding score ($e_{bind}$)', 'Count')

ax = add_panel(467, 1180)
centers = score_hist(ax, disp_range, disp_counts)
ax.plot(disp_kde_x, disp_kde_y, color=BLUE, lw=1)
ax.plot(centers, fit_low, color='green', lw=1)
ax.plot(centers, fit_high, color='red', lw=1)
ax.plot(centers, np.add(fit_low, fit_high), color='yellow', lw=1.2)
ax.axvline(disp_threshold, color='black', lw=1)
ax.text(-0.39, 266, 'Threshold = -0.26', ha='right', va='center', fontsize=12, family=SANS)
label(ax, 'Display score ($e_{disp}$)', 'Count')

fig.savefig('out.png', dpi=100)
